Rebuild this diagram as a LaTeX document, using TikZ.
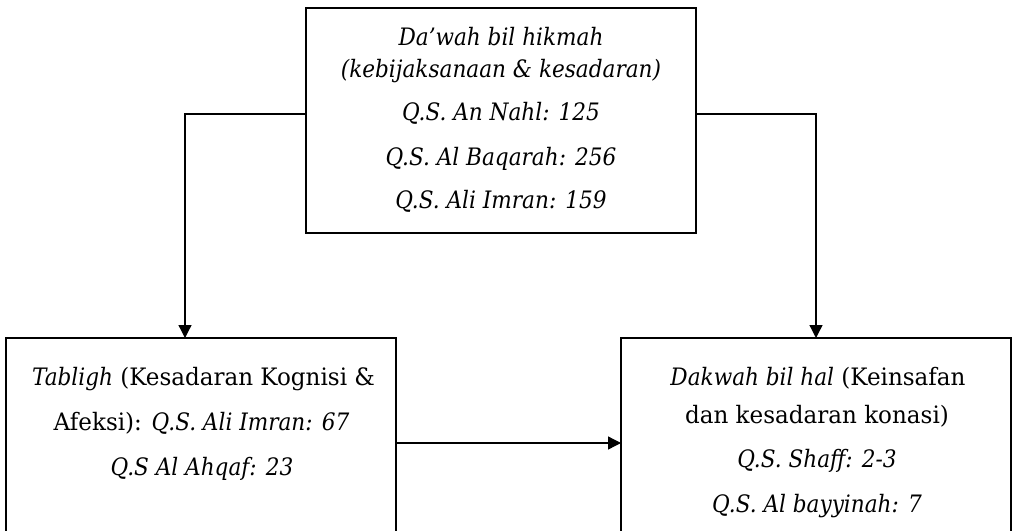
\documentclass[tikz,border=0pt]{standalone}
\usepackage{fontspec}
\setmainfont{DejaVu Serif}[UprightFeatures={FakeStretch=0.96},ItalicFeatures={FakeStretch=0.9}]
\usetikzlibrary{arrows.meta}
\begin{document}
\begin{tikzpicture}[x=1pt,y=-1pt,
  box/.style={draw, line width=1.3pt, inner sep=0pt, outer sep=0pt, minimum width=390pt},
  txt/.style={anchor=base, inner sep=0pt, font=\fontsize{24}{28}\selectfont},
  arr/.style={line width=1.3pt, -{Triangle[length=13pt,width=13pt]}}]
\useasboundingbox (0,0) rectangle (1016,530);
\clip (0,0) rectangle (1016,530);
\node[box, minimum height=225pt] (top) at (501,120.5) {};
\node[box, minimum height=210pt] (tabligh) at (201,443) {};
\node[box, minimum height=210pt] (dakwah) at (816,443) {};
% top box text
\node[txt] (t1) at (501,45) {\itshape Da’wah bil hikmah};
\node[txt] (t2) at (501,77) {\itshape (kebijaksanaan \& kesadaran)};
\node[txt] (t3) at (501,120) {\itshape Q.S. An Nahl: 125};
\node[txt] (t4) at (501,165) {\itshape Q.S. Al Baqarah: 256};
\node[txt] (t5) at (501,208) {\itshape Q.S. Ali Imran: 159};
% left box text
\node[txt] (l1) at (203.5,385) {\textit{Tabligh} (Kesadaran Kognisi \&};
\node[txt] (l2) at (201.5,430) {Afeksi): \textit{Q.S. Ali Imran: 67}};
\node[txt] (l3) at (202,475) {\textit{Q.S Al Ahqaf: 23}};
% right box text
\node[txt] (r1) at (818,385) {\textit{Dakwah bil hal} (Keinsafan};
\node[txt] (r2) at (817,423) {dan kesadaran konasi)};
\node[txt] (r3) at (817,467) {\textit{Q.S. Shaff: 2-3}};
\node[txt] (r4) at (817,512) {\textit{Q.S. Al bayyinah: 7}};
% connectors
\draw[arr] ([yshift=6.5pt]top.west) -| ([xshift=-16pt]tabligh.north);
\draw[arr] ([yshift=6.5pt]top.east) -| (dakwah.north);
\draw[arr] (tabligh.east) -- (dakwah.west);
\end{tikzpicture}
\end{document}
